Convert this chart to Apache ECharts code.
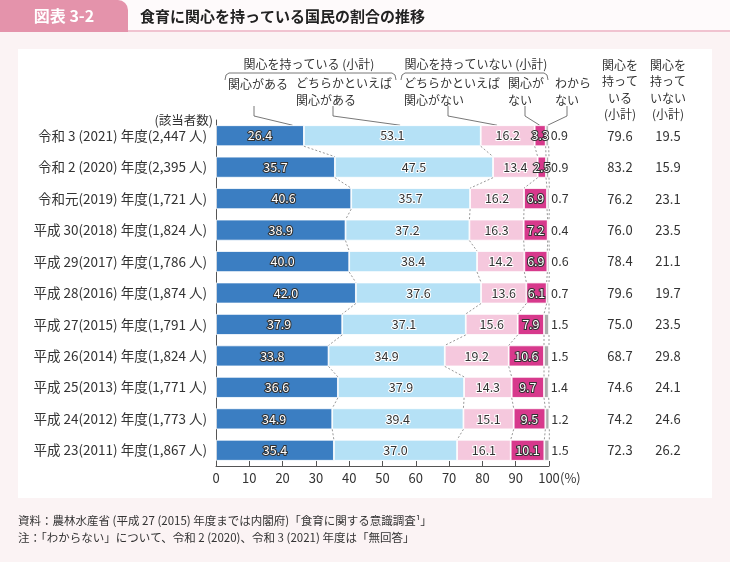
<!DOCTYPE html>
<html>
<head>
<meta charset="utf-8">
<script src="https://cdn.jsdelivr.net/npm/echarts@6/dist/echarts.min.js"></script>
<style>
  html, body { margin: 0; padding: 0; background: #fbf3f4; }
  #chart { width: 730px; height: 562px; }
</style>
</head>
<body>
<div id="chart"></div>
<script>
const categories = [
  '令和 3 (2021) 年度(2,447 人)',
  '令和 2 (2020) 年度(2,395 人)',
  '令和元(2019) 年度(1,721 人)',
  '平成 30(2018) 年度(1,824 人)',
  '平成 29(2017) 年度(1,786 人)',
  '平成 28(2016) 年度(1,874 人)',
  '平成 27(2015) 年度(1,791 人)',
  '平成 26(2014) 年度(1,824 人)',
  '平成 25(2013) 年度(1,771 人)',
  '平成 24(2012) 年度(1,773 人)',
  '平成 23(2011) 年度(1,867 人)'
];
const interested       = [26.4, 35.7, 40.6, 38.9, 40.0, 42.0, 37.9, 33.8, 36.6, 34.9, 35.4];
const ratherInterested = [53.1, 47.5, 35.7, 37.2, 38.4, 37.6, 37.1, 34.9, 37.9, 39.4, 37.0];
const ratherNot        = [16.2, 13.4, 16.2, 16.3, 14.2, 13.6, 15.6, 19.2, 14.3, 15.1, 16.1];
const notInterested    = [3.3, 2.5, 6.9, 7.2, 6.9, 6.1, 7.9, 10.6, 9.7, 9.5, 10.1];
const unknown          = [0.9, 0.9, 0.7, 0.4, 0.6, 0.7, 1.5, 1.5, 1.4, 1.2, 1.5];
const subtotalYes      = [79.6, 83.2, 76.2, 76.0, 78.4, 79.6, 75.0, 68.7, 74.6, 74.2, 72.3];
const subtotalNo       = [19.5, 15.9, 23.1, 23.5, 21.1, 19.7, 23.5, 29.8, 24.1, 24.6, 26.2];

const seriesNames = ['関心がある', 'どちらかといえば関心がある', 'どちらかといえば関心がない', '関心がない', 'わからない'];
const seriesData = [interested, ratherInterested, ratherNot, notInterested, unknown];
const colors = ['#3b7ec2', '#b5e1f6', '#f5c8dd', '#d7398c', '#adadad'];

const FONT = '"Noto Sans CJK JP", "Noto Sans", sans-serif';
const BAR_W = 21;

// cumulative boundaries per row for the dashed connectors
const cum = categories.map((c, i) => {
  let s = 0;
  return seriesData.map(arr => (s += arr[i]));
});

const darkLabel = { color: '#fff', textBorderColor: '#333', textBorderWidth: 2 };
const lightLabel = { color: '#333', textBorderColor: '#fff', textBorderWidth: 2 };

const barSeries = seriesData.map((arr, k) => ({
  name: seriesNames[k],
  type: 'bar',
  stack: 'all',
  barWidth: BAR_W,
  data: arr,
  itemStyle: { color: colors[k], borderColor: '#fff', borderWidth: 0.8 },
  label: Object.assign({
    show: true,
    position: k === 4 ? 'right' : 'inside',
    distance: 2,
    fontFamily: FONT,
    fontSize: 12.5,
    formatter: p => p.value.toFixed(1)
  }, k === 4 ? { color: '#333' } : (k === 0 || k === 3 ? darkLabel : lightLabel)),
  z: 3
}));

const connectorSeries = {
  type: 'custom',
  data: categories.slice(0, -1).map((c, i) => [0, i]),
  encode: { x: 0, y: 1 },
  clip: false,
  z: 4,
  silent: true,
  renderItem: (params, api) => {
    const i = params.dataIndex;
    const children = cum[i].map((v, k) => {
      const a = api.coord([v, i]);
      const b = api.coord([cum[i + 1][k], i + 1]);
      return {
        type: 'line',
        shape: { x1: a[0], y1: a[1] + BAR_W / 2, x2: b[0], y2: b[1] - BAR_W / 2 },
        style: { stroke: '#999', lineWidth: 1, lineDash: [2, 2] }
      };
    });
    return { type: 'group', children };
  }
};

const sideAxis = (values, margin) => ({
  type: 'category',
  data: categories,
  inverse: true,
  position: 'right',
  gridIndex: 0,
  axisLine: { show: false },
  axisTick: { show: false },
  axisLabel: {
    margin: margin,
    align: 'center',
    color: '#333',
    fontFamily: FONT,
    fontSize: 13,
    formatter: (v, idx) => values[idx].toFixed(1)
  }
});

const chart = echarts.init(document.getElementById('chart'));

chart.setOption({
  backgroundColor: '#fbf3f4',
  animation: false,
  textStyle: { fontFamily: FONT },
  grid: { left: 216, right: 181, top: 120, bottom: 96, containLabel: false },
  xAxis: {
    type: 'value',
    min: 0,
    max: 100,
    interval: 10,
    splitLine: { show: false },
    axisLine: { show: true, lineStyle: { color: '#555' } },
    axisTick: { show: true, inside: true, length: 5, lineStyle: { color: '#555' } },
    axisLabel: { color: '#333', fontFamily: FONT, fontSize: 13, margin: 6 }
  },
  yAxis: [
    {
      type: 'category',
      data: categories,
      inverse: true,
      axisLine: { show: true, lineStyle: { color: '#555' } },
      axisTick: { show: false },
      axisLabel: { color: '#333', fontFamily: FONT, fontSize: 13.5, margin: 9 }
    },
    sideAxis(subtotalYes, 71),
    sideAxis(subtotalNo, 119)
  ],
  series: barSeries.concat([connectorSeries])
});

// annotations: header, panel, labels with leader lines into the first bar
const pt = v => chart.convertToPixel({ gridIndex: 0 }, [v, 0]);
const barTop = pt(0)[1] - BAR_W / 2;
const txt = (text, x, y, extra) => ({
  type: 'text',
  x, y,
  style: Object.assign({ text, fill: '#333', font: '12px ' + FONT, textVerticalAlign: 'middle' }, extra || {})
});
const leader = (lx, target) => {
  const b = pt(target);
  return {
    type: 'polyline',
    shape: { points: [[lx, 106], [lx, 116], [b[0], barTop]] },
    style: { stroke: '#555', lineWidth: 0.8, fill: null }
  };
};
const brace = (x1, x2) => ({
  type: 'polyline',
  shape: { points: [[x1, 80], [x1 + 1, 75], [x1 + 4, 73], [x2 - 4, 73], [x2 - 1, 75], [x2, 80]] },
  style: { stroke: '#555', lineWidth: 0.8, fill: null }
});

const elements = [
  { type: 'rect', z: -10, shape: { x: 0, y: 0, width: 730, height: 32 }, style: { fill: '#fefafb' } },
  { type: 'rect', z: -10, shape: { x: 0, y: 30, width: 730, height: 2 }, style: { fill: '#f0c3d0' } },
  { type: 'rect', z: -9, shape: { x: 0, y: 0, width: 128, height: 32, r: [0, 10, 0, 0] }, style: { fill: '#e493ab' } },
  { type: 'rect', z: -10, shape: { x: 18, y: 49, width: 694, height: 449 }, style: { fill: '#ffffff' } },
  txt('図表 3-2', 64, 16, { fill: '#fff', font: 'bold 16px ' + FONT, textAlign: 'center' }),
  txt('食育に関心を持っている国民の割合の推移', 140, 16, { fill: '#222', font: 'bold 15px ' + FONT }),

  txt('関心を持っている (小計)', 309, 64, { textAlign: 'center' }),
  txt('関心を持っていない (小計)', 476, 64, { textAlign: 'center' }),
  brace(225, 396),
  brace(401, 548),
  txt('関心がある', 228, 84),
  txt('どちらかといえば\n関心がある', 296, 92, { lineHeight: 17 }),
  txt('どちらかといえば\n関心がない', 404, 92, { lineHeight: 17 }),
  txt('関心が\nない', 508, 92, { lineHeight: 17 }),
  txt('わから\nない', 555, 92, { lineHeight: 17 }),
  leader(254, 23),
  leader(333, 55.3),
  leader(448, 84.4),
  leader(525, 97.2),
  leader(567, 99.6),

  txt('関心を\n持って\nいる\n(小計)', 620, 90, { textAlign: 'center', lineHeight: 16.5 }),
  txt('関心を\n持って\nいない\n(小計)', 668, 90, { textAlign: 'center', lineHeight: 16.5 }),
  txt('(該当者数)', 213, 120, { textAlign: 'right', font: '12.5px ' + FONT }),
  txt('(%)', 560, 478, { font: '13px ' + FONT }),

  txt('資料：農林水産省 (平成 27 (2015) 年度までは内閣府)「食育に関する意識調査¹」', 18, 521, { font: '11.5px ' + FONT }),
  txt('注：「わからない」について、令和 2 (2020)、令和 3 (2021) 年度は「無回答」', 18, 538, { font: '11.5px ' + FONT })
];

chart.setOption({ graphic: { elements } });
</script>
</body>
</html>
